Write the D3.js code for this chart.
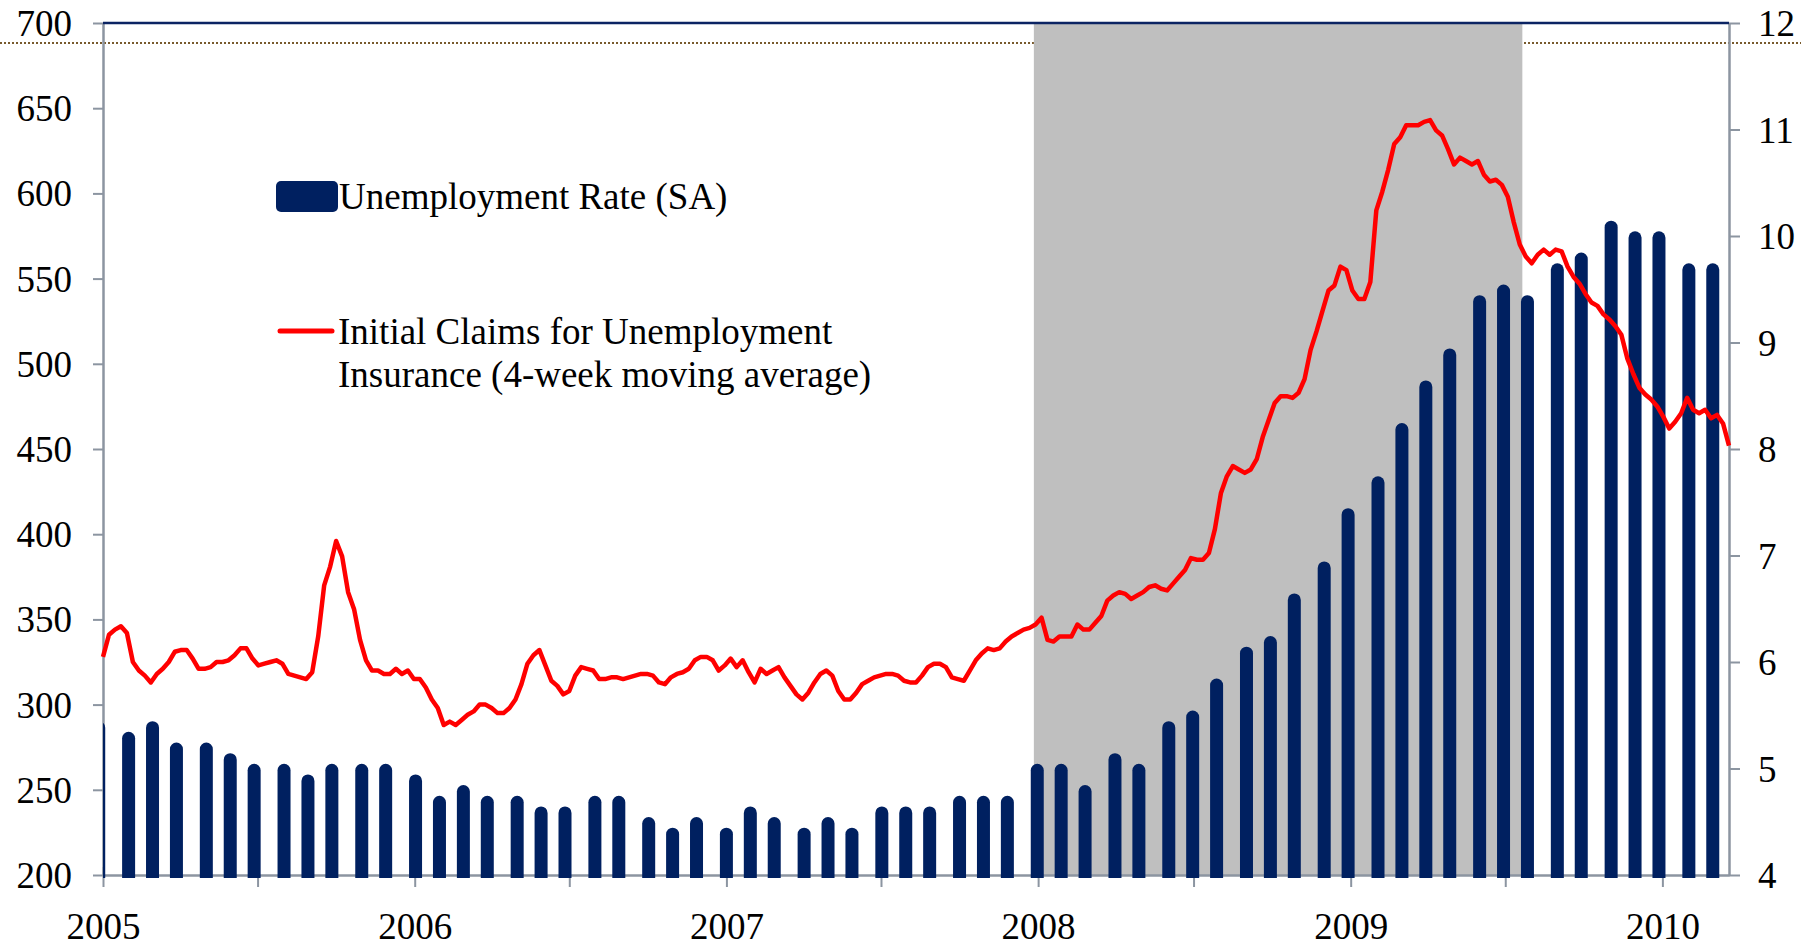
<!DOCTYPE html>
<html>
<head>
<meta charset="utf-8">
<script src="https://cdn.jsdelivr.net/npm/d3@7"></script>
<style>
  body { margin: 0; background: #fff; }
  svg { display: block; }
  text { font-family: "Liberation Serif", "Times New Roman", serif; }
</style>
</head>
<body>
<div id="chart"></div>
<script>
var width = 1801;
var height = 944;

// initial claims, 4-week moving average (thousands), one value per week, first week ends 2005-01-01
var claimsStart = "2005-01-01";
var claims2005 = [328,341,344,346,342,325,320,317,313,318, 321,325,331,332,332,327,321,321,322,325,
                  325,326,329,333,333,327,323,324,325,326, 324,318,317,316,315,319,340,370,381,396,
                  387,366,356,338,326,320,320,318,318,321, 318,320,315];
var claims2006 = [315,310,303,298,288,290,288,291,294,296, 300,300,298,295,295,298,303,312,324,329,
                  332,323,314,311,306,308,317,322,321,320, 315,315,316,316,315,316,317,318,318,317,
                  313,312,316,318,319,321,326,328,328,326, 320,323];
var claims2007 = [327,322,326,319,313,321,318,320,322,316, 311,306,303,307,313,318,320,317,308,303,
                  303,307,312,314,316,317,318,318,317,314, 313,313,317,322,324,324,322,316,315,314,
                  320,326,330,333,332,333,337,340,342,344, 345,347];
var claims2008 = [351,338,337,340,340,340,347,344,344,348, 352,361,364,366,365,362,364,366,369,370,
                  368,367,371,375,379,386,385,385,389,403, 424,434,440,438,436,438,444,457,467,477,
                  481,481,480,483,491,508,519,531,543,546, 557,555];
var claims2009 = [543,538,538,548,590,601,614,629,633,640, 640,640,642,643,637,634,626,617,621,619,
                  617,619,611,607,608,605,598,583,570,563, 559,564,567,564,567,566,557,551,547,541,
                  536,534,529,526,522,517,503,494,486,482, 479,475];
var claims2010 = [469,462,466,471,480,473,471,473,468,470, 465,452];

// unemployment rate (SA, %), monthly, first value is Dec 2004
var rateStart = "2004-12";
var rate2004 = [5.4];
var rate2005 = [5.3,5.4,5.2,5.2,5.1,5.0,5.0,4.9,5.0,5.0,5.0,4.9];
var rate2006 = [4.7,4.8,4.7,4.7,4.6,4.6,4.7,4.7,4.5,4.4,4.5,4.4];
var rate2007 = [4.6,4.5,4.4,4.5,4.4,4.6,4.6,4.6,4.7,4.7,4.7,5.0];
var rate2008 = [5.0,4.8,5.1,5.0,5.4,5.5,5.8,6.1,6.2,6.6,6.9,7.4];
var rate2009 = [7.7,8.2,8.6,8.9,9.4,9.5,9.4,9.7,9.8,10.1,10.0,10.0];
var rate2010 = [9.7,9.7];

var leftTicks = [200,250,300,350,400,450,500,550,600,650,700];
var rightTicks = [4,5,6,7,8,9,10,11,12];
var axisDates = ["2005-01-01","2005-07-01","2006-01-01","2006-07-01","2007-01-01","2007-07-01",
                 "2008-01-01","2008-07-01","2009-01-01","2009-07-01","2010-01-01"];
var recession = ["2007-12-27","2009-07-21"];
var xDomain = ["2005-01-01","2010-03-20"];

var legendBar = "Unemployment Rate (SA)";
var legendLine = ["Initial Claims for Unemployment", "Insurance (4-week moving average)"];

var navy = "#002060";
var axisGrey = "#8c95a1";

var parseDay = d3.utcParse("%Y-%m-%d");
var parseMonth = d3.utcParse("%Y-%m");

// build the series
var claims = claims2005.concat(claims2006, claims2007, claims2008, claims2009, claims2010);
var claimsData = claims.map(function(v, i){
    return { date: d3.utcDay.offset(parseDay(claimsStart), 7 * i), value: v };
});

// bars sit on the last week (saturday) of each month
var rates = rate2004.concat(rate2005, rate2006, rate2007, rate2008, rate2009, rate2010);
var rateData = rates.map(function(v, i){
    var m = d3.utcMonth.offset(parseMonth(rateStart), i);
    var lastDay = d3.utcDay.offset(d3.utcMonth.offset(m, 1), -1);
    return { date: d3.utcSaturday.floor(lastDay), value: v };
});

// plot box (note: "top" is taken by window.top, so prefix these)
var plotLeft = 103, plotRight = 1729, plotTop = 23, plotBottom = 875;

var x = d3.scaleUtc().domain(xDomain.map(parseDay)).range([plotLeft, plotRight]);
var yLeft = d3.scaleLinear().domain([200, 700]).range([plotBottom, plotTop]);
var yRight = d3.scaleLinear().domain([4, 12]).range([plotBottom, plotTop]);

var svg = d3.select("#chart")
    .append("svg")
    .attr("width", width)
    .attr("height", height);

svg.append("rect")
    .attr("width", width)
    .attr("height", height)
    .attr("fill", "#fff");

// dotted line behind everything
svg.append("line")
    .attr("x1", 0).attr("x2", width)
    .attr("y1", 43).attr("y2", 43)
    .attr("stroke", "#785a2d")
    .attr("stroke-width", 2)
    .attr("stroke-dasharray", "2,2");

// recession shading
svg.append("rect")
    .attr("x", x(parseDay(recession[0])))
    .attr("y", plotTop)
    .attr("width", x(parseDay(recession[1])) - x(parseDay(recession[0])))
    .attr("height", plotBottom - plotTop)
    .attr("fill", "#bfbfbf");

// left axis
var gLeft = svg.append("g")
    .attr("transform", "translate(" + plotLeft + ",0)")
    .call(d3.axisLeft(yLeft).tickValues(leftTicks).tickSize(10).tickSizeOuter(0).tickPadding(21));

// right axis
var gRight = svg.append("g")
    .attr("transform", "translate(" + plotRight + ",0)")
    .call(d3.axisRight(yRight).tickValues(rightTicks).tickSize(11).tickSizeOuter(0).tickPadding(18));

// bottom axis, ticks every half year, labels on january
var gBottom = svg.append("g")
    .attr("transform", "translate(0," + plotBottom + ")")
    .call(d3.axisBottom(x)
        .tickValues(axisDates.map(parseDay))
        .tickSize(12)
        .tickSizeOuter(0)
        .tickPadding(26)
        .tickFormat(function(d){ return d.getUTCMonth() === 0 ? d.getUTCFullYear() : ""; }));
gBottom.selectAll(".tick line").attr("y1", -8);

[gLeft, gRight, gBottom].forEach(function(g){
    g.select(".domain").attr("stroke", axisGrey).attr("stroke-width", 2.5);
    g.selectAll(".tick line").attr("stroke", axisGrey).attr("stroke-width", 2);
    g.selectAll("text")
        .attr("fill", "#000")
        .attr("font-size", "37px")
        .attr("font-family", "'Liberation Serif', 'Times New Roman', serif");
});
gLeft.selectAll("text").attr("dy", "0.34em");
gRight.selectAll("text").attr("dy", "0.34em");

// clip for the bars so the december 2004 bar gets cut at the axis
svg.append("clipPath")
    .attr("id", "plotClip")
    .append("rect")
    .attr("x", plotLeft)
    .attr("y", 0)
    .attr("width", plotRight - plotLeft)
    .attr("height", height);

var barW = 13;
function barPath(d){
    var cx = x(d.date) + 1.7;
    var r = barW / 2;
    var yt = yRight(d.value) + 1.8;
    return "M" + (cx - r) + "," + (plotBottom + 3) +
        "V" + yt +
        "A" + r + "," + r + " 0 0 1 " + (cx + r) + "," + yt +
        "V" + (plotBottom + 3) + "Z";
}

svg.append("g")
    .attr("clip-path", "url(#plotClip)")
    .selectAll(".bar")
    .data(rateData)
    .enter()
        .append("path")
        .attr("class", "bar")
        .attr("d", barPath)
        .attr("fill", navy);

// claims line
var line = d3.line()
    .x(function(d){ return x(d.date); })
    .y(function(d){ return yLeft(d.value); });

svg.append("path")
    .datum(claimsData)
    .attr("d", line)
    .attr("fill", "none")
    .attr("stroke", "#ff0000")
    .attr("stroke-width", 4.5)
    .attr("stroke-linejoin", "round");

// top border
svg.append("line")
    .attr("x1", plotLeft).attr("x2", plotRight)
    .attr("y1", plotTop).attr("y2", plotTop)
    .attr("stroke", "#0b2463")
    .attr("stroke-width", 2.5);

// legend
var legend = svg.append("g").attr("id", "legend");

legend.append("rect")
    .attr("x", 276).attr("y", 181)
    .attr("width", 62).attr("height", 31)
    .attr("rx", 5)
    .attr("fill", navy);
legend.append("text")
    .attr("x", 339).attr("y", 209)
    .attr("font-size", "37px")
    .text(legendBar);

legend.append("line")
    .attr("x1", 280).attr("x2", 332)
    .attr("y1", 331).attr("y2", 331)
    .attr("stroke", "#ff0000")
    .attr("stroke-width", 5)
    .attr("stroke-linecap", "round");
legend.selectAll(".lineLabel")
    .data(legendLine)
    .enter()
        .append("text")
        .attr("class", "lineLabel")
        .attr("x", 338)
        .attr("y", function(d, i){ return 344 + i * 43; })
        .attr("font-size", "37px")
        .text(function(d){ return d; });
</script>
</body>
</html>
